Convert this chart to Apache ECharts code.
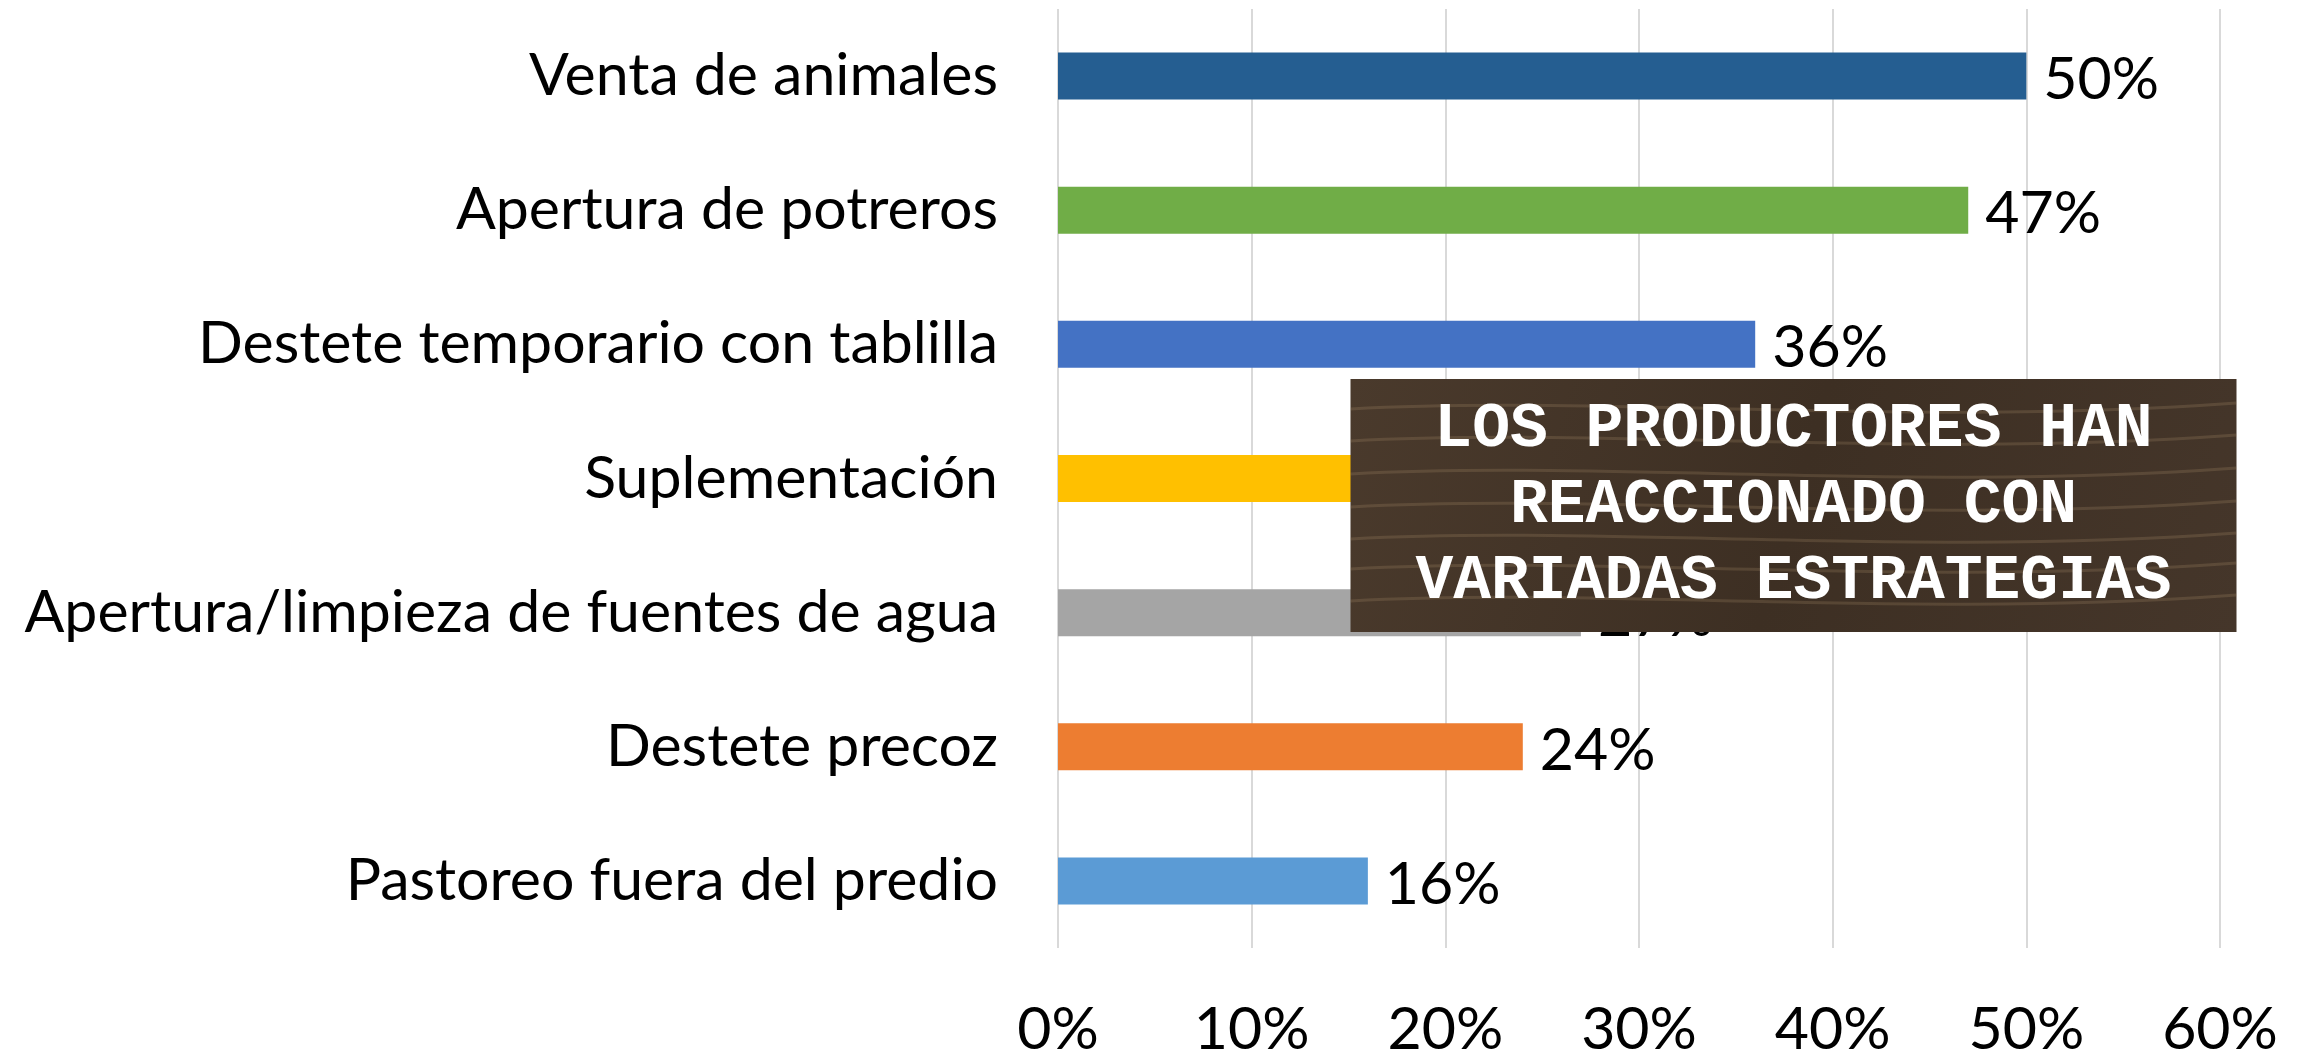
<!DOCTYPE html>
<html>
<head lang="es">
    <meta charset="UTF-8">
    <title>Estrategias</title>
    <style type="text/css">
        html, body { margin: 0; padding: 0; background: #fff; }
        #mychart { width: 2302px; height: 1059px; }
    </style>
</head>
<body>
<div id="mychart"></div>
<script src="https://cdn.jsdelivr.net/npm/echarts@6/dist/echarts.min.js"></script>
<script>
    // datos (porcentaje de productores)
    var categorias = [
        'Venta de animales',
        'Apertura de potreros',
        'Destete temporario con tablilla',
        'Suplementación',
        'Apertura/limpieza de fuentes de agua',
        'Destete precoz',
        'Pastoreo fuera del predio'
    ];
    var valores = [50, 47, 36, 33, 27, 24, 16];
    var colores = ['#255E91', '#70AD47', '#4472C4', '#FFC000', '#A5A5A5', '#ED7D31', '#5B9BD5'];
    var ticks = [0, 10, 20, 30, 40, 50, 60];
    var cartel = ['LOS PRODUCTORES HAN', 'REACCIONADO CON', 'VARIADAS ESTRATEGIAS'];

    var fuente = 'Lato';

    // vetas de madera del cartel
    var vetas = [];
    var ys = [30, 62, 95, 128, 160, 190, 222];
    for (var i = 0; i < ys.length; i++) {
        vetas.push({
            type: 'bezierCurve',
            z: 101,
            shape: { x1: 0, y1: ys[i], cpx1: 250, cpy1: ys[i] - 14, cpx2: 560, cpy2: ys[i] + 18, x2: 886, y2: ys[i] - 6 },
            style: { stroke: 'rgba(190,160,120,0.2)', lineWidth: 3, fill: null },
            silent: true
        });
    }

    var textos = cartel.map(function (t, k) {
        return {
            type: 'text',
            z: 102,
            x: 443,
            y: 51 + k * 76,
            style: {
                text: t,
                fill: '#ffffff',
                font: 'bold 63px "Liberation Mono", "DejaVu Sans Mono", monospace',
                align: 'center',
                verticalAlign: 'middle'
            },
            silent: true
        };
    });

    var option = {
        backgroundColor: '#fff',
        animation: false,
        grid: { left: 1058, right: 82, top: 9, height: 945 },
        xAxis: {
            type: 'value',
            min: 0,
            max: 60,
            interval: 10,
            axisLine: { show: false },
            axisTick: { show: false },
            splitLine: { lineStyle: { color: '#d9d9d9', width: 2 } },
            axisLabel: {
                formatter: function (v) { return ticks.indexOf(v) >= 0 ? v + '%' : ''; },
                fontFamily: fuente,
                fontSize: 59,
                color: '#000',
                margin: 52
            }
        },
        yAxis: {
            type: 'category',
            data: categorias,
            inverse: true,
            axisLine: { show: false },
            axisTick: { show: false },
            axisLabel: {
                fontFamily: fuente,
                fontSize: 59,
                color: '#000',
                margin: 60
            }
        },
        series: [{
            type: 'bar',
            barWidth: 47,
            data: valores.map(function (v, i) {
                return { value: v, itemStyle: { color: colores[i] } };
            }),
            label: {
                show: true,
                position: 'right',
                distance: 17,
                offset: [0, 4],
                formatter: '{c}%',
                fontFamily: fuente,
                fontSize: 59,
                color: '#000'
            }
        }],
        graphic: {
            elements: [{
                type: 'group',
                left: 1348,
                top: 379,
                z: 100,
                zlevel: 1,
                children: [{
                    type: 'rect',
                    z: 100,
                    shape: { x: 0, y: 0, width: 886, height: 253 },
                    style: {
                        fill: {
                            type: 'linear', x: 0, y: 0, x2: 1, y2: 1,
                            colorStops: [
                                { offset: 0, color: '#4a3a2c' },
                                { offset: 0.5, color: '#3d2f23' },
                                { offset: 1, color: '#45362a' }
                            ]
                        }
                    },
                    silent: true
                }].concat(vetas).concat(textos)
            }]
        }
    };

    var mychart = echarts.init(document.getElementById('mychart'));
    mychart.setOption(option);
</script>
</body>
</html>
